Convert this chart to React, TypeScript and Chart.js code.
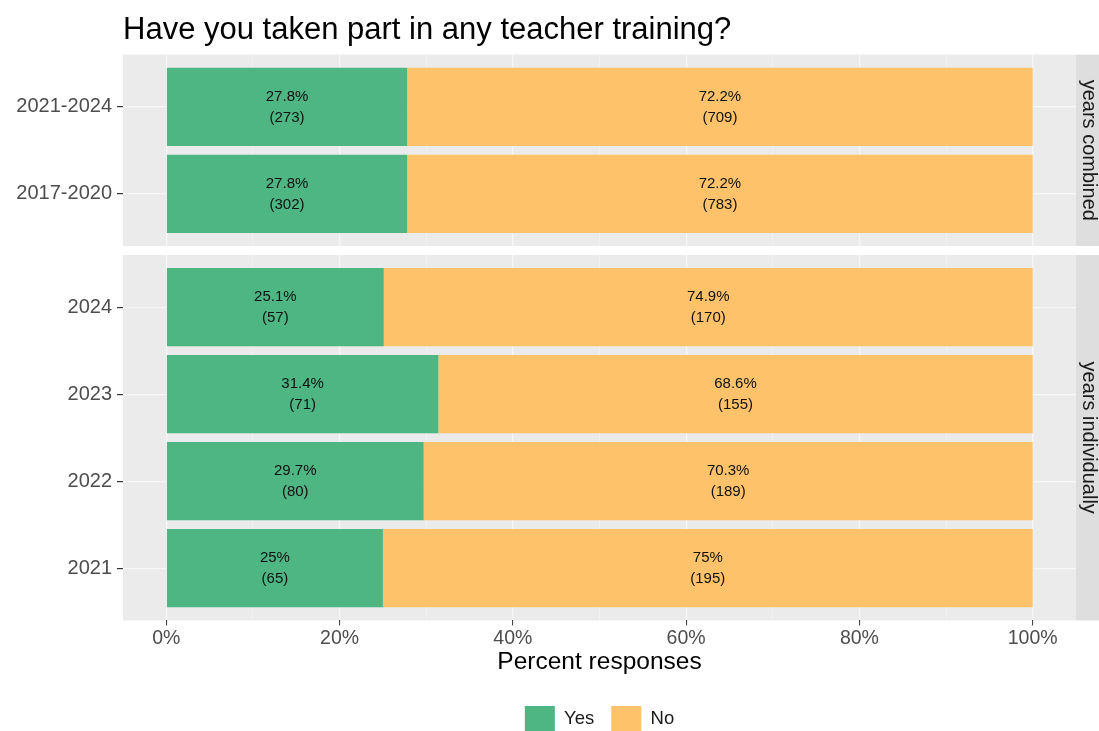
import React, { useEffect, useRef } from 'react';
import { Chart, registerables } from 'chart.js';

Chart.register(...registerables);

// ---------------- data ----------------
const chartTitle = 'Have you taken part in any teacher training?';
const xAxisTitle = 'Percent responses';
const seriesNames = ['Yes', 'No'];

const combinedStrip = 'years combined';
const combinedCategories = ['2021-2024', '2017-2020'];
const combinedYesPct = [27.8, 27.8];
const combinedNoPct = [72.2, 72.2];
const combinedYesCount = [273, 302];
const combinedNoCount = [709, 783];

const individualStrip = 'years individually';
const individualCategories = ['2024', '2023', '2022', '2021'];
const individualYesPct = [25.1, 31.4, 29.7, 25];
const individualNoPct = [74.9, 68.6, 70.3, 75];
const individualYesCount = [57, 71, 80, 65];
const individualNoCount = [170, 155, 189, 195];

const xMajorTicks = [0, 20, 40, 60, 80, 100];
const xMinorTicks = [10, 30, 50, 70, 90];

// ---------------- style ----------------
const GREEN = '#4DB683';
const ORANGE = '#FEC36A';
const PANEL_BG = '#EBEBEB';
const STRIP_BG = '#DEDEDE';
const FONT = '"Liberation Sans", Arial, Helvetica, sans-serif';

Chart.defaults.font.family = FONT;

const panelPlugin = {
  id: 'panel',
  beforeDraw(chart: any) {
    const { ctx, chartArea: a, width } = chart;
    ctx.save();
    ctx.fillStyle = PANEL_BG;
    ctx.fillRect(a.left, a.top, a.right - a.left, a.bottom - a.top);
    ctx.fillStyle = STRIP_BG;
    ctx.fillRect(a.right, a.top, width - a.right, a.bottom - a.top);
    ctx.restore();
  },
  afterDraw(chart: any, _args: any, opts: any) {
    const { ctx, chartArea: a } = chart;
    ctx.save();
    ctx.translate(a.right + 13, (a.top + a.bottom) / 2);
    ctx.rotate(Math.PI / 2);
    ctx.font = `20px ${FONT}`;
    ctx.fillStyle = '#1A1A1A';
    ctx.textAlign = 'center';
    ctx.textBaseline = 'middle';
    ctx.fillText(opts.label, 0, 0);
    ctx.restore();
  },
};

const barLabelPlugin = {
  id: 'barLabels',
  afterDatasetsDraw(chart: any) {
    const { ctx } = chart;
    ctx.save();
    ctx.font = `15px ${FONT}`;
    ctx.fillStyle = '#111111';
    ctx.textAlign = 'center';
    ctx.textBaseline = 'middle';
    chart.data.datasets.forEach((ds: any, di: number) => {
      const meta = chart.getDatasetMeta(di);
      meta.data.forEach((el: any, i: number) => {
        const { x, y, base } = el.getProps(['x', 'y', 'base'], true);
        const cx = (x + base) / 2;
        ctx.fillText(`${ds.data[i].x}%`, cx, y - 10);
        ctx.fillText(`(${ds.counts[i]})`, cx, y + 11);
      });
    });
    ctx.restore();
  },
};

function makeConfig(
  cats: string[],
  yesPct: number[],
  noPct: number[],
  yesN: number[],
  noN: number[],
  strip: string,
  isBottom: boolean
): any {
  const toPts = (arr: number[]) => arr.map((v, i) => ({ x: v, y: i + 1 }));
  const allXTicks = [...xMajorTicks, ...xMinorTicks].sort((a, b) => a - b);
  const isMajor = (c: any) => c && c.tick && xMajorTicks.includes(c.tick.value);
  return {
    type: 'bar',
    data: {
      datasets: [
        { label: seriesNames[0], data: toPts(yesPct), counts: yesN, backgroundColor: GREEN, borderWidth: 0 },
        { label: seriesNames[1], data: toPts(noPct), counts: noN, backgroundColor: ORANGE, borderWidth: 0 },
      ],
    },
    options: {
      indexAxis: 'y',
      animation: false,
      responsive: false,
      devicePixelRatio: 1,
      layout: { padding: { top: isBottom ? 5 : 0, right: 23, bottom: 0, left: 0 } },
      datasets: { bar: { barPercentage: 0.9, categoryPercentage: 1 } },
      scales: {
        x: {
          type: 'linear',
          min: -5,
          max: 105,
          stacked: true,
          offset: false,
          afterBuildTicks: (s: any) => {
            s.ticks = allXTicks.map((v) => ({ value: v }));
          },
          afterFit: (s: any) => {
            s.height = isBottom ? 68.6 : 0;
            s.paddingLeft = 0;
            s.paddingRight = 0;
          },
          grid: {
            offset: false,
            color: '#F7F7F7',
            lineWidth: (c: any) => (isMajor(c) ? 1.2 : 0.5),
            drawTicks: isBottom,
            tickLength: 5,
            tickWidth: 1,
            tickColor: (c: any) => (isMajor(c) ? '#333333' : 'rgba(0,0,0,0)'),
          },
          border: { display: false },
          ticks: {
            display: isBottom,
            autoSkip: false,
            maxRotation: 0,
            padding: 2,
            color: '#4D4D4D',
            font: { size: 19.5 },
            callback: (v: any) => (xMajorTicks.includes(v) ? `${v}%` : ''),
          },
          title: {
            display: isBottom,
            text: xAxisTitle,
            color: '#000000',
            font: { size: 24.5 },
            padding: { top: 0, bottom: 12 },
          },
        },
        y: {
          type: 'linear',
          min: 0.4,
          max: cats.length + 0.6,
          reverse: true,
          stacked: true,
          offset: false,
          afterBuildTicks: (s: any) => {
            s.ticks = cats.map((_, i) => ({ value: i + 1 }));
          },
          afterFit: (s: any) => {
            s.width = 123;
            s.paddingTop = 0;
            s.paddingBottom = 0;
          },
          grid: {
            offset: false,
            color: '#F7F7F7',
            lineWidth: 1.2,
            drawTicks: true,
            tickLength: 6,
            tickColor: '#333333',
          },
          border: { display: false },
          ticks: {
            autoSkip: false,
            padding: 5,
            color: '#4D4D4D',
            font: { size: 20 },
            callback: (_v: any, i: number) => cats[i],
          },
        },
      },
      plugins: {
        legend: isBottom
          ? {
              display: true,
              position: 'bottom',
              fullSize: false,
              align: 'center',
              labels: {
                boxWidth: 30,
                boxHeight: 26,
                padding: 17,
                color: '#1A1A1A',
                font: { size: 18.5 },
              },
            }
          : { display: false },
        title: isBottom
          ? { display: false }
          : {
              display: true,
              text: chartTitle,
              position: 'top',
              align: 'start',
              fullSize: false,
              color: '#000000',
              font: { size: 31, weight: 'normal' },
              padding: { top: 12.3, bottom: 5.1 },
            },
        tooltip: { enabled: false },
        panel: { label: strip },
      },
    },
    plugins: [panelPlugin, barLabelPlugin],
  };
}

function Facet({ top, height, config }: { top: number; height: number; config: () => any }) {
  const ref = useRef<HTMLCanvasElement | null>(null);
  useEffect(() => {
    if (!ref.current) return;
    const chart = new Chart(ref.current, config());
    return () => chart.destroy();
  }, []);
  return (
    <canvas
      ref={ref}
      width={1099}
      height={height}
      style={{ position: 'absolute', left: 0, top, width: 1099, height, display: 'block' }}
    />
  );
}

export default function App() {
  return (
    <div
      style={{
        position: 'fixed',
        left: 0,
        top: 0,
        width: 1099,
        height: 731,
        overflow: 'hidden',
        background: '#FFFFFF',
      }}
    >
      <Facet
        top={0}
        height={246}
        config={() =>
          makeConfig(
            combinedCategories,
            combinedYesPct,
            combinedNoPct,
            combinedYesCount,
            combinedNoCount,
            combinedStrip,
            false
          )
        }
      />
      <Facet
        top={250}
        height={492}
        config={() =>
          makeConfig(
            individualCategories,
            individualYesPct,
            individualNoPct,
            individualYesCount,
            individualNoCount,
            individualStrip,
            true
          )
        }
      />
    </div>
  );
}
